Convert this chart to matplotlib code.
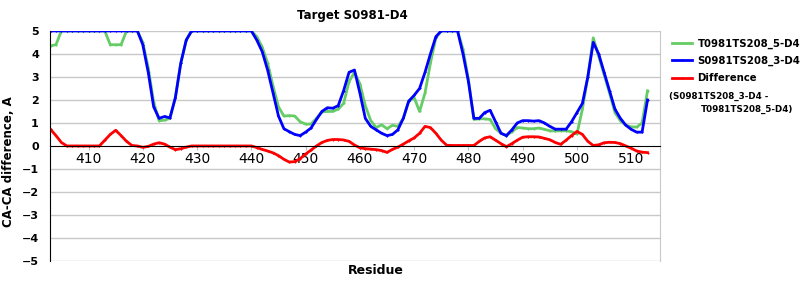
# Libraries
import matplotlib
matplotlib.use("Agg")
import matplotlib.pyplot as plt
import numpy as np

# residues 403 .. 513
residues = list(range(403, 514))

# S0981TS208_3-D4 (blue)
s_values = [5, 5, 5, 5, 5, 5, 5, 5, 5, 5, 5, 5, 5, 5, 5, 5, 5,
            4.4, 3.2, 1.7, 1.2, 1.28, 1.22, 2.1, 3.6, 4.6,
            5, 5, 5, 5, 5, 5, 5, 5, 5, 5, 5, 5,
            4.6, 4.1, 3.3, 2.3, 1.3, 0.75, 0.62, 0.5, 0.45, 0.6,
            0.78, 1.15, 1.5, 1.66, 1.64, 1.75, 2.4, 3.2, 3.3, 2.3,
            1.2, 0.85, 0.7, 0.55, 0.45, 0.5, 0.7, 1.2, 1.95, 2.2,
            2.5, 3.2, 4.0, 4.75, 5, 5, 5, 5, 4.0, 2.8,
            1.2, 1.2, 1.45, 1.55, 1.05, 0.55, 0.45, 0.7, 1.0, 1.1,
            1.1, 1.08, 1.1, 1.0, 0.85, 0.73, 0.73, 0.73, 1.05, 1.45,
            1.85, 3.0, 4.5, 4.0, 3.2, 2.4, 1.6, 1.2, 0.9, 0.72,
            0.6, 0.6, 2.0]

# T0981TS208_5-D4 (green)
t_values = [4.35, 4.4, 5, 5, 5, 5, 5, 5, 5, 5, 5, 4.4, 4.4, 4.4, 5, 5, 5,
            4.5, 3.4, 1.9, 1.1, 1.12, 1.2, 2.1, 3.6, 4.6,
            5, 5, 5, 5, 5, 5, 5, 5, 5, 5, 5, 5,
            4.75, 4.3, 3.6, 2.6, 1.7, 1.3, 1.32, 1.3, 1.05, 0.95,
            0.95, 1.2, 1.48, 1.5, 1.5, 1.6, 1.85, 2.8, 3.2, 2.7,
            1.75, 1.1, 0.8, 0.92, 0.75, 0.9, 0.85, 1.2, 1.95, 2.1,
            1.5, 2.3, 3.6, 4.7, 5, 5, 5, 5, 4.2, 2.9,
            1.15, 1.18, 1.18, 1.15, 0.75, 0.55, 0.45, 0.62, 0.8, 0.78,
            0.75, 0.75, 0.78, 0.72, 0.66, 0.65, 0.66, 0.66, 0.62, 0.52,
            1.6, 3.0, 4.7, 3.9, 3.1, 2.3, 1.45, 1.1, 0.9, 0.83,
            0.82, 1.0, 2.4]

# Difference (red)
d_values = [0.72, 0.45, 0.15, 0, 0, 0, 0, 0, 0, 0, 0.25, 0.5, 0.68, 0.45, 0.2, 0.02, 0,
            -0.06, -0.02, 0.08, 0.14, 0.08, -0.05, -0.16, -0.12, -0.05,
            0, 0, 0, 0, 0, 0, 0, 0, 0, 0, 0, 0,
            -0.07, -0.15, -0.22, -0.3, -0.42, -0.58, -0.7, -0.68, -0.55, -0.35,
            -0.18, 0.0, 0.15, 0.24, 0.28, 0.28, 0.26, 0.2, 0.04, -0.08,
            -0.12, -0.14, -0.16, -0.2, -0.28, -0.15, -0.05, 0.08, 0.22, 0.35,
            0.55, 0.85, 0.8, 0.55, 0.25, 0.03, 0.02, 0.02, 0.02, 0.02,
            0.02, 0.2, 0.35, 0.4, 0.25, 0.1, -0.03, 0.1, 0.25, 0.38,
            0.4, 0.4, 0.39, 0.33, 0.27, 0.15, 0.07, 0.25, 0.45, 0.63,
            0.5, 0.2, 0.02, 0.05, 0.14, 0.16, 0.15, 0.1, 0.0, -0.1,
            -0.22, -0.27, -0.29]

x_ticks = [410, 420, 430, 440, 450, 460, 470, 480, 490, 500, 510]
y_ticks = [-5, -4, -3, -2, -1, 0, 1, 2, 3, 4, 5]

fig = plt.figure(figsize=(8, 3), dpi=100)
ax = fig.add_axes([0.0625, 0.13, 0.7625, 0.767])

l1, = ax.plot(residues, t_values, color="#66cc66", lw=2, marker="+", ms=2, mew=0.8)
l2, = ax.plot(residues, s_values, color="#0000ff", lw=2, marker="+", ms=2, mew=0.8)
l3, = ax.plot(residues, d_values, color="#ff0000", lw=2, marker="+", ms=2, mew=0.8)

ax.set_xlim(402.9, 515.3)
ax.set_ylim(-5, 5)
ax.set_yticks(y_ticks)
ax.set_yticklabels([str(v).replace("-", "\u2212") for v in y_ticks],
                   fontsize=8, fontweight="bold")
ax.set_xticks(x_ticks)
ax.set_xticklabels([str(v) for v in x_ticks], fontsize=8, fontweight="bold")
ax.tick_params(axis="y", length=0, pad=8)
ax.tick_params(axis="x", length=3, color="#c0c0c0", pad=1)

for y in y_ticks:
    if y != 0:
        ax.axhline(y, color="#c8c8c8", lw=1, zorder=0)

ax.spines["bottom"].set_position(("data", 0))
ax.spines["bottom"].set_color("black")
ax.spines["top"].set_visible(False)
ax.spines["right"].set_color("#c8c8c8")
ax.spines["left"].set_color("black")

ax.set_ylabel("CA-CA difference, A", fontsize=8.5, fontweight="bold")
ax.yaxis.set_label_coords(-0.058, 0.43)
fig.text(0.47, 0.085, "Residue", fontsize=9, fontweight="bold", ha="center")
fig.text(0.44, 0.935, "Target S0981-D4", fontsize=8.5, fontweight="bold", ha="center")

leg = fig.legend([l1, l2, l3], ["T0981TS208_5-D4", "S0981TS208_3-D4", "Difference"],
                 loc="upper left", bbox_to_anchor=(0.835, 0.885), frameon=False,
                 prop={"size": 7.3, "weight": "bold"}, handlelength=2.0,
                 handletextpad=0.5, labelspacing=0.7, borderaxespad=0)
fig.text(0.836, 0.67, "(S0981TS208_3-D4 -", fontsize=6.3, fontweight="bold")
fig.text(0.876, 0.627, "T0981TS208_5-D4)", fontsize=6.3, fontweight="bold")

plt.savefig("out.png", dpi=100)
